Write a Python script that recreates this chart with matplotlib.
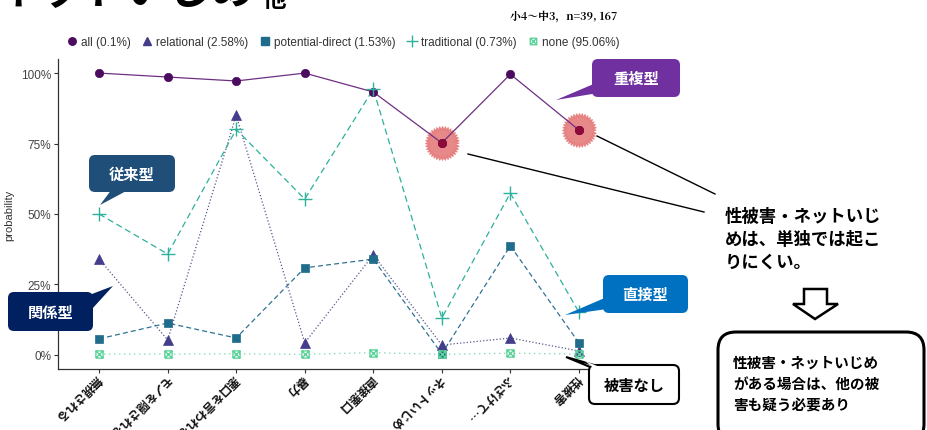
import numpy as np
import matplotlib.pyplot as plt
from matplotlib.path import Path
from matplotlib.lines import Line2D
from matplotlib.patches import FancyBboxPatch, Polygon

plt.rcParams['font.family'] = ['Noto Sans CJK JP', 'DejaVu Sans']

# data (percent)
items = ['無視される', 'モノを隠される', '悪口を言われる', '暴力', '直接悪口',
         'ネットいじめ', 'ふざけて…', '性被害']
labels = ['all (0.1%)', 'relational (2.58%)', 'potential-direct (1.53%)',
          'traditional (0.73%)', 'none (95.06%)']
all_p = [100, 98.6, 97.2, 100, 93.3, 75.2, 99.6, 79.8]
relational = [34.0, 5.3, 85.0, 4.3, 35.5, 3.5, 6.0, 1.4]
potential_direct = [5.7, 11.3, 6.0, 30.9, 34.0, 0.4, 38.7, 4.3]
traditional = [50.0, 35.8, 80.0, 55.3, 94.3, 13.1, 57.4, 15.2]
none_p = [0.3, 0.3, 0.4, 0.2, 0.8, 0.2, 0.6, 0.3]
highlight = [5, 7]   # ネットいじめ, 性被害
yticks = [0, 25, 50, 75, 100]

# boxed-x marker for "none"
boxx = Path([(-1, -1), (1, -1), (1, 1), (-1, 1), (-1, -1), (-1, -1), (1, 1), (-1, 1), (1, -1)],
            [1, 2, 2, 2, 2, 1, 2, 1, 2])
# starburst marker for highlights
ang = np.linspace(0, 2 * np.pi, 73)[:-1]
rad = np.where(np.arange(72) % 2 == 0, 1.0, 0.8)
burst = Path(np.column_stack([rad * np.cos(ang), rad * np.sin(ang)]), closed=False)

# values, marker colour, line colour, linestyle, marker, size, fill
series = [
    (all_p, '#4B0B5E', '#6E2F82', '-', 'o', 6, 'full'),
    (relational, '#433D8B', '#5A568F', ':', '^', 7, 'full'),
    (potential_direct, '#1F6D8B', '#2F7394', (0, (4, 2.5)), 's', 6, 'full'),
    (traditional, '#2DB09C', '#2DB09C', (0, (5, 3)), '+', 10, 'full'),
    (none_p, '#5ED39B', '#6FD6A6', (0, (1, 3)), boxx, 5.2, 'none'),
]

fig = plt.figure(figsize=(9.28, 4.31), dpi=100)
ax = fig.add_axes([58 / 928, 1 - 370 / 431, 562 / 928, 310 / 431])
x = np.arange(1, len(items) + 1)

ax.plot(x[highlight], np.array(all_p)[highlight], ls='none', marker=burst,
        ms=24, mfc='#E57C7C', mec='#E57C7C', zorder=1, alpha=0.9)

handles = []
for vals, col, lcol, ls, mk, ms, fs in series:
    mfc = 'none' if fs == 'none' else col
    ax.plot(x, vals, color=lcol, ls=ls, lw=0.9, zorder=2)
    ax.plot(x, vals, ls='none', marker=mk, ms=ms, mfc=mfc, mec=col,
            mew=1.0 if mk == '+' or fs == 'none' else 0.5, zorder=3)
    handles.append(Line2D([], [], ls='none', marker=mk, ms=ms * 0.9, mfc=mfc,
                          mec=col, color=col, mew=1.0))

ax.plot(x[highlight], np.array(all_p)[highlight], ls='none', marker='o', ms=5.5,
        mfc='#8B0A3A', mec='#8B0A3A', zorder=4)

ax.set_xlim(0.4, len(items) + 0.6)
ax.set_ylim(-5, 105)
ax.set_yticks(yticks)
ax.set_yticklabels([f'{v}%' for v in yticks], fontsize=8.5, color='#444',
                   family=['Liberation Sans'])
ax.set_xticks(x)
ax.set_xticklabels(items, rotation=225, rotation_mode='anchor', ha='left',
                   va='center', fontsize=8.5, color='#111', fontweight='bold')
ax.set_ylabel('probability', fontsize=8, color='#333', family=['Liberation Sans'],
              labelpad=5)
for s in ['top', 'right']:
    ax.spines[s].set_visible(False)
for s in ['left', 'bottom']:
    ax.spines[s].set_color('#333')
    ax.spines[s].set_linewidth(0.9)
ax.tick_params(length=3, color='#333', width=0.8, pad=2)

fig.legend(handles, labels, loc='center', bbox_to_anchor=(342 / 928, 1 - 43 / 431),
           ncol=5, frameon=False, handletextpad=0.15, columnspacing=0.8,
           handlelength=1.2, prop={'family': 'Liberation Sans', 'size': 8.5},
           labelcolor='#333')

# title (cut off at the top) and subtitle
fig.text(-0.004, 1 - 13 / 431, 'ネットいじめ', fontsize=31, fontweight='bold', va='bottom')
fig.text(263 / 928, 1 - 12 / 431, '他', fontsize=17, fontweight='bold', va='bottom')
fig.text(510 / 928, 1 - 17 / 431, '小4〜中3，n=39, 167', fontsize=7.8, fontweight='bold',
         va='center', family=['Noto Serif CJK JP', 'Noto Sans CJK JP', 'DejaVu Sans'])

# overlay in pixel coordinates for the callouts
ov = fig.add_axes([0, 0, 1, 1], zorder=5)
ov.set_xlim(0, 928)
ov.set_ylim(431, 0)
ov.axis('off')
ov.patch.set_alpha(0)


def callout(x0, y0, w, h, tail, text, fc, ec=None, tc='white', fs=11, lw=0):
    ov.add_patch(Polygon(tail, closed=True, fc=fc, ec=ec or fc, lw=lw, zorder=6))
    ov.add_patch(FancyBboxPatch((x0, y0), w, h, boxstyle='round,pad=0,rounding_size=6',
                                fc=fc, ec=ec or fc, lw=lw, zorder=7))
    ov.text(x0 + w / 2, y0 + h / 2, text, color=tc, fontsize=fs, fontweight='bold',
            ha='center', va='center', zorder=8)


callout(592, 60, 88, 38, [(596, 84), (598, 94), (556, 101)], '重複型', '#7030A0')
callout(89, 156, 86, 37, [(112, 190), (130, 190), (100, 206)], '従来型', '#1F4E79')
callout(8, 293, 85, 39, [(84, 298), (92, 310), (113, 287)], '関係型', '#002060')
callout(603, 276, 85, 38, [(607, 298), (607, 310), (565, 316)], '直接型', '#0070C0')
callout(589, 366, 90, 39, [(595, 370), (608, 370), (566, 358)], '被害なし', 'white',
        ec='black', tc='black', lw=1.5)
# cover the tail/box seam of the white callout
ov.add_patch(Polygon([(596, 371), (607, 371), (585, 362)], closed=True, fc='white',
                     ec='none', zorder=7.5))

ov.plot([468, 704], [155, 213], color='black', lw=1.0)
ov.plot([597, 715], [137, 195], color='black', lw=1.0)
ov.text(725, 240, '性被害・ネットいじ\nめは、単独では起こ\nりにくい。', fontsize=12.5,
        fontweight='bold', va='center', ha='left', linespacing=1.35)

# block arrow
ov.add_patch(Polygon([(804, 290), (827, 290), (827, 305), (838, 305), (815, 320),
                      (793, 305), (804, 305)], closed=True, fc='white', ec='black',
                     lw=1.8))
ov.add_patch(FancyBboxPatch((718, 333), 206, 110, boxstyle='round,pad=0,rounding_size=18',
                            fc='white', ec='black', lw=2.2))
ov.text(733, 384, '性被害・ネットいじめ\nがある場合は、他の被\n害も疑う必要あり', fontsize=10.5,
        fontweight='bold', va='center', ha='left', linespacing=1.45)

fig.savefig('out.png', dpi=100)
